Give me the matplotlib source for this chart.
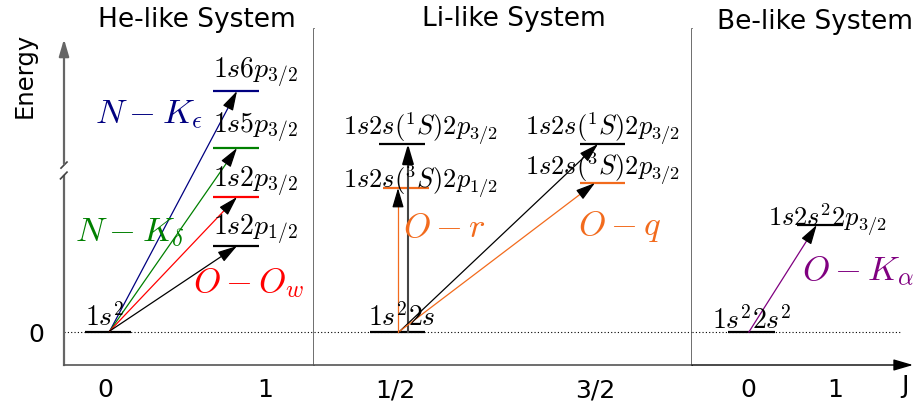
import matplotlib
matplotlib.use("Agg")
import matplotlib.pyplot as plt
import numpy as np

plt.rcParams['mathtext.fontset'] = 'cm'

# ---- level energies (arbitrary units, ground = 0) ----
# He-like: upper levels, all reached from 1s^2
he_labels = [r'$1s6p_{3/2}$', r'$1s5p_{3/2}$', r'$1s2p_{3/2}$', r'$1s2p_{1/2}$']
he_energy = [2.41, 1.84, 1.35, 0.86]
he_colors = ['navy', 'green', 'red', 'black']
he_label_y = [2.61, 2.06, 1.52, 1.04]

# Li-like: J=1/2 column and J=3/2 column
li_labels = [r'$1s2s(^1S)2p_{3/2}$', r'$1s2s(^3S)2p_{1/2}$',
             r'$1s2s(^1S)2p_{3/2}$', r'$1s2s(^3S)2p_{3/2}$']
li_energy = [1.88, 1.44, 1.88, 1.49]
li_colors = ['black', '#f26b1d', 'black', '#f26b1d']
li_col_j = [0.5, 0.5, 1.5, 1.5]
li_label_y = [2.04, 1.51, 2.04, 1.64]

# Be-like
be_labels = [r'$1s2s^22p_{3/2}$']
be_energy = [1.07]

ORANGE = '#f26b1d'
ylo, yhi = -0.33, 3.03

fig = plt.figure(figsize=(9.17, 4.02), dpi=100)
W, H = 917, 402

def add_panel(x0, x1, xlim, dot_end=1.0):
    ax = fig.add_axes([x0 / W, 1 - 366 / H, (x1 - x0) / W, 336 / H])
    ax.set_xlim(*xlim)
    ax.set_ylim(ylo, yhi)
    for s in ax.spines.values():
        s.set_color('#555555')
        s.set_linewidth(1.2)
    ax.spines['top'].set_visible(False)
    ax.spines['left'].set_visible(False)
    ax.tick_params(length=0, labelsize=18, pad=9)
    ax.set_yticks([])
    ax.axhline(0, xmax=dot_end, color='black', ls=(0, (1, 2)), lw=0.8)
    return ax

ax1 = add_panel(64, 314, (-0.256, 1.306))
ax2 = add_panel(314, 692, (0.095, 1.985))
ax3 = add_panel(692, 913, (-0.644, 1.897), dot_end=208 / 221)
ax3.spines['right'].set_visible(False)
ax3.spines['bottom'].set_visible(False)

HEAD = '-|>,head_length=0.85,head_width=0.25'

def level(ax, x0, x1, e, c):
    ax.plot([x0, x1], [e, e], color=c, lw=1.6, solid_capstyle='butt')

def arrow(ax, p0, p1, c, lw=0.9):
    # coloured shaft, black head on top of its last few pixels
    a = ax.transData.transform(p0)
    b = ax.transData.transform(p1)
    d = (b - a) / np.hypot(*(b - a))
    inv = ax.transData.inverted()
    stop = inv.transform(b - d * 6)
    ax.plot([p0[0], stop[0]], [p0[1], stop[1]], color=c, lw=lw)
    ax.annotate('', xy=p1, xytext=inv.transform(b - d * 13),
                arrowprops=dict(arrowstyle=HEAD, color='black', lw=lw,
                                shrinkA=0, shrinkB=0, mutation_scale=14))

lbl = dict(fontsize=20, va='center', ha='left')
big = dict(fontsize=25, va='center', ha='left')

# ---- He-like ----
level(ax1, -0.125, 0.163, 0, 'black')
ax1.text(-0.125, 0.15, r'$1s^2$', **lbl)
for name, e, c, ly in zip(he_labels, he_energy, he_colors, he_label_y):
    level(ax1, 0.675, 0.9625, e, c)
    arrow(ax1, (0.03, 0.01), (0.825, e), c)
    ax1.text(0.675, ly, name, **lbl)
ax1.text(-0.0625, 2.19, r'$N-K_\epsilon$', color='navy', **big)
ax1.text(-0.19, 1.01, r'$N-K_\delta$', color='green', **big)
ax1.text(0.55, 0.50, r'$O-O_w$', color='red', **big)
ax1.set_xticks([0, 1])
ax1.set_xticklabels(['0', '1'])
ax1.set_yticks([0])
ax1.set_yticklabels(['0'])
ax1.tick_params(axis='y', pad=14)

# y axis drawn by hand with a break
ytr = ax1.transAxes
ax1.plot([0, 0], [0, 0.5625], color='#666666', lw=1.6, transform=ytr, clip_on=False)
ax1.annotate('', xy=(0, 0.97), xytext=(0, 0.598), xycoords=ytr,
             arrowprops=dict(arrowstyle=HEAD, color='#666666', lw=1.6,
                             shrinkA=0, shrinkB=0, mutation_scale=12))
ax1.plot([-0.012, 0.012], [0.586, 0.604], color='#444444', lw=1.2, transform=ytr, clip_on=False)
ax1.plot([-0.014, 0.012], [0.554, 0.574], color='#444444', lw=1.2, transform=ytr, clip_on=False)

# ---- Li-like ----
level(ax2, 0.375, 0.65, 0, 'black')
ax2.text(0.365, 0.15, r'$1s^22s$', **lbl)
li_spans = [(0.42, 0.65), (0.44, 0.67), (1.425, 1.65), (1.425, 1.65)]
for (xa, xb), e, c in zip(li_spans, li_energy, li_colors):
    level(ax2, xa, xb, e, c)
arrow(ax2, (0.515, 0), (0.515, li_energy[1]), ORANGE)
arrow(ax2, (0.565, 0), (0.565, li_energy[0]), '#444444', lw=1.5)
arrow(ax2, (0.525, 0.01), (1.515, li_energy[2]), 'black')
arrow(ax2, (0.525, 0.01), (1.50, li_energy[3]), ORANGE)
for name, j, ly in zip(li_labels, li_col_j, li_label_y):
    ax2.text(0.24 if j < 1 else 1.15, ly, name, fontsize=19, va='center', ha='left')
ax2.text(0.54, 1.06, r'$O-r$', color=ORANGE, **big)
ax2.text(1.415, 1.06, r'$O-q$', color=ORANGE, **big)
ax2.set_xticks([0.5, 1.5])
ax2.set_xticklabels(['1/2', '3/2'])

# ---- Be-like ----
level(ax3, -0.23, 0.31, 0, 'black')
ax3.text(-0.41, 0.12, r'$1s^22s^2$', **lbl)
level(ax3, 0.56, 1.09, be_energy[0], 'black')
arrow(ax3, (0.01, 0), (0.79, be_energy[0]), 'purple')
ax3.text(0.23, 1.13, be_labels[0], fontsize=19, va='center', ha='left')
ax3.text(0.62, 0.62, r'$O-K_\alpha$', color='purple', **big)
ax3.set_xticks([0, 1])
ax3.set_xticklabels(['0', '1'])
ax3.annotate('', xy=(1, 0), xytext=(0, 0), xycoords='axes fraction',
             arrowprops=dict(arrowstyle=HEAD, color='black', lw=1.0,
                             shrinkA=0, shrinkB=0, mutation_scale=14))

# titles and axis names
fig.text(197 / W, 1 - 20 / H, 'He-like System', fontsize=19, ha='center', va='center')
fig.text(514 / W, 1 - 19 / H, 'Li-like System', fontsize=19, ha='center', va='center')
fig.text(815 / W, 1 - 22 / H, 'Be-like System', fontsize=19, ha='center', va='center')
fig.text(25 / W, 1 - 75 / H, 'Energy', fontsize=17.5, rotation=90, ha='center', va='center')
fig.text(905 / W, 1 - 386 / H, 'J', fontsize=18, ha='center', va='center')

fig.savefig('out.png', dpi=100)
